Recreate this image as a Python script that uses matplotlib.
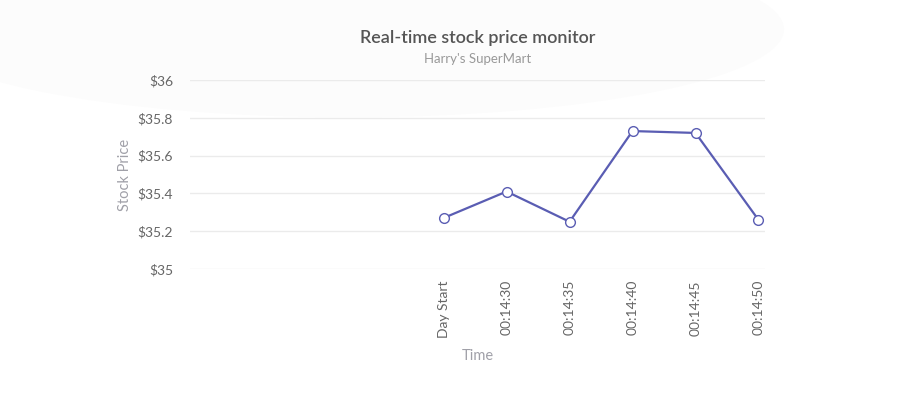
import matplotlib.pyplot as plt
from matplotlib.patches import Ellipse

plt.rcParams['font.family'] = ['Lato', 'DejaVu Sans']

# data
times = ["Day Start", "00:14:30", "00:14:35", "00:14:40", "00:14:45", "00:14:50"]
prices = [35.27, 35.41, 35.25, 35.73, 35.72, 35.26]
y_ticks = [35, 35.2, 35.4, 35.6, 35.8, 36]
y_tick_labels = ["$35", "$35.2", "$35.4", "$35.6", "$35.8", "$36"]

fig = plt.figure(figsize=(9.17, 4.19), dpi=100)
fig.patch.set_facecolor("white")

# faint background blob
blob = Ellipse((0.38, 0.93), 0.95, 0.42, transform=fig.transFigure,
               facecolor="#fcfcfc", edgecolor="none", zorder=-5)
fig.patches.append(blob)

ax = fig.add_axes([0.207, 0.358, 0.627, 0.451])
ax.set_facecolor("none")

x = list(range(len(times)))
ax.plot(x, prices, color="#5a5db3", linewidth=1.6, marker="o", markersize=7,
        markerfacecolor="white", markeredgecolor="#5a5db3", markeredgewidth=1.0,
        zorder=3)

ax.set_xlim(-4.03, 5.1)
ax.set_ylim(35, 36)
ax.set_yticks(y_ticks)
ax.set_yticklabels(y_tick_labels)
ax.set_xticks(x)
ax.set_xticklabels(times, rotation=90)

ax.grid(axis="y", color="#ebebeb", linewidth=1)
ax.set_axisbelow(True)
for s in ax.spines.values():
    s.set_visible(False)
ax.tick_params(length=0, colors="#666666", labelsize=10)
ax.tick_params(axis="y", pad=12)
ax.tick_params(axis="x", pad=8)

ax.set_ylabel("Stock Price", color="#a0a0a8", fontsize=10.5, labelpad=4)
fig.text(0.521, 0.15, "Time", color="#a0a0a8", fontsize=10.5, ha="center", va="center")

fig.text(0.521, 0.91, "Real-time stock price monitor", color="#555555",
         fontsize=13, fontweight="semibold", ha="center", va="center")
fig.text(0.521, 0.86, "Harry's SuperMart", color="#999999", fontsize=9.5,
         ha="center", va="center")

fig.savefig("out.png", dpi=100)
